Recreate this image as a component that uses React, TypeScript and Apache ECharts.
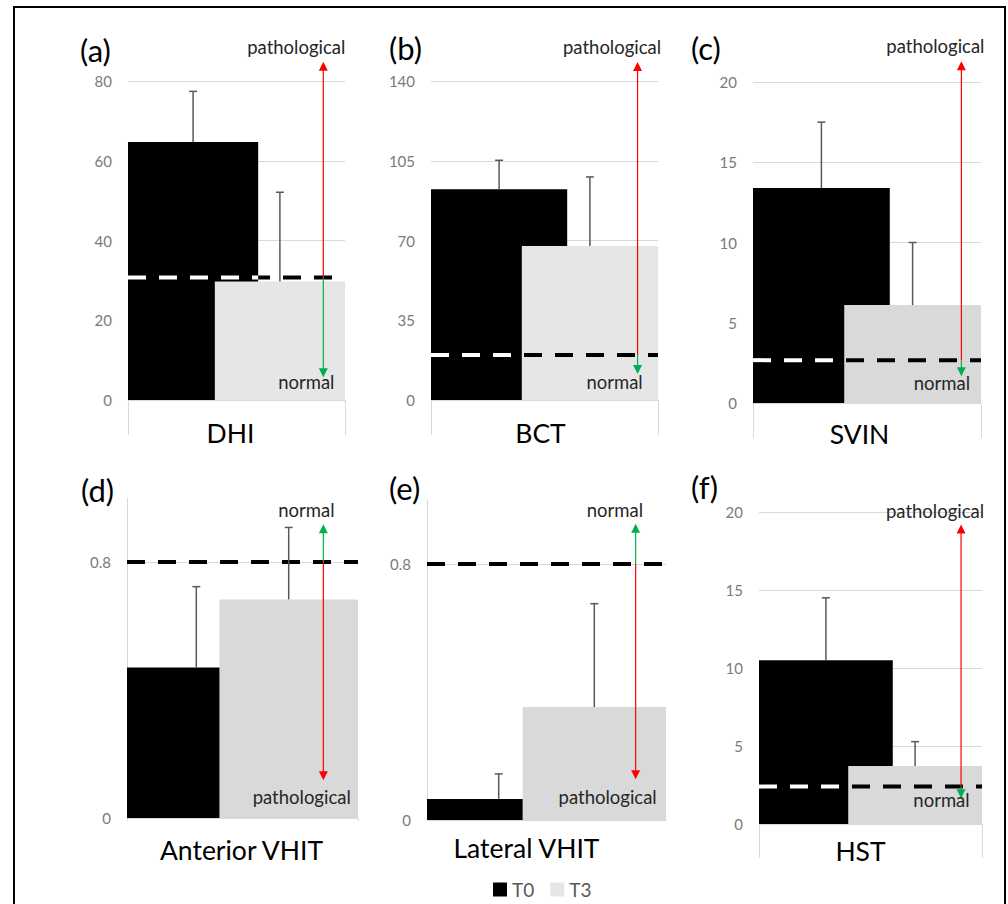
import React, { useEffect, useRef } from 'react';
import * as echarts from 'echarts';

// ---------- data ----------
const categories = ['DHI', 'BCT', 'SVIN', 'Anterior VHIT', 'Lateral VHIT', 'HST'];
const panelLetters = ['(a)', '(b)', '(c)', '(d)', '(e)', '(f)'];
const seriesNames = ['T0', 'T3'];
const t0Mean = [64.7, 92.5, 13.4, 0.47, 0.066, 10.5];
const t0Err = [12.7, 12.7, 4.1, 0.253, 0.078, 4.0];
const t3Mean = [29.7, 67.6, 6.1, 0.683, 0.353, 3.72];
const t3Err = [22.4, 30.3, 3.9, 0.225, 0.323, 1.56];
const thresholds = [30.7, 19.7, 2.67, 0.8, 0.8, 2.4];
const axisMax = [80, 140, 20, 1, 1, 20];
const axisInterval = [20, 35, 5, 0.8, 0.8, 5];
const arrowTop = [84.8, 148.3, 21.3, 0.918, 0.926, 19.2];
const arrowBottom = [5.7, 11.4, 1.67, 0.118, 0.127, 1.65];
const topLabels = ['pathological', 'pathological', 'pathological', 'normal', 'normal', 'pathological'];
const bottomLabels = ['normal', 'normal', 'normal', 'pathological', 'pathological', 'normal'];

// ---------- layout / style ----------
const FONT = 'Lato, "Open Sans", sans-serif';
const RED = '#ff0000';
const GREEN = '#00b050';
const grids = [
  { left: 128, top: 81, width: 217, height: 319 },
  { left: 431, top: 81, width: 227, height: 319 },
  { left: 753, top: 82, width: 228, height: 321 },
  { left: 127, top: 498, width: 231, height: 320 },
  { left: 427, top: 500, width: 239, height: 320 },
  { left: 759, top: 512, width: 223, height: 312 },
];
const panelStyle = [
  { t3Color: '#e7e6e6', arrowFrac: 0.9, tickLen: 35, yLine: false, labelMargin: 19.5, labelShift: -6, topDx: -27, topDy: -15, botDx: -17, botDy: 5 },
  { t3Color: '#e7e6e6', arrowFrac: 0.91, tickLen: 35, yLine: false, labelMargin: 19.5, labelShift: -4, topDx: -25.5, topDy: -15, botDx: -23, botDy: 7.7 },
  { t3Color: '#d9d9d9', arrowFrac: 0.914, tickLen: 35, yLine: false, labelMargin: 17, labelShift: -7.5, topDx: -26, topDy: -15, botDx: -19.5, botDy: 7 },
  { t3Color: '#d9d9d9', arrowFrac: 0.85, tickLen: 3, yLine: true, labelMargin: 18.5, labelShift: -1, topDx: -17, topDy: -14.5, botDx: -21.6, botDy: 16.7 },
  { t3Color: '#d9d9d9', arrowFrac: 0.873, tickLen: 0, yLine: true, labelMargin: 14.5, labelShift: -20, topDx: -20.7, topDy: -14, botDx: -28, botDy: 17.4 },
  { t3Color: '#d9d9d9', arrowFrac: 0.906, tickLen: 34, yLine: false, labelMargin: 13, labelShift: -10, topDx: -26, topDy: -13, botDx: -19.5, botDy: 1.7 },
];
const letterPos = [
  { x: 80, y: 50 }, { x: 389, y: 48 }, { x: 691, y: 48 },
  { x: 81, y: 490 }, { x: 389, y: 488 }, { x: 691, y: 487 },
];

const makeRender = (i: number) => (params: any, api: any) => {
  const cs = params.coordSys;
  const W = cs.width;
  const left = cs.x;
  const right = cs.x + W;
  const cx = left + W / 2;
  const yOf = (v: number) => api.coord([0, v])[1];
  const ps = panelStyle[i];
  const children: any[] = [];
  const ty = yOf(thresholds[i]);
  children.push({
    type: 'line',
    shape: { x1: left, y1: ty, x2: right, y2: ty },
    style: { stroke: '#000', lineWidth: 4, lineDash: [18, 13] },
  });
  if (thresholds[i] < t0Mean[i]) {
    const split = thresholds[i] > t3Mean[i] ? cx + 0.1 * W : cx - 0.1 * W;
    children.push({
      type: 'line',
      shape: { x1: left, y1: ty, x2: split, y2: ty },
      style: { stroke: '#fff', lineWidth: 4, lineDash: [18, 13] },
    });
  }
  const bars: [number, number, number][] = [
    [cx - 0.2 * W, t0Mean[i], t0Err[i]],
    [cx + 0.2 * W, t3Mean[i], t3Err[i]],
  ];
  bars.forEach(([x, m, e]) => {
    const y1 = yOf(m);
    const y2 = yOf(m + e);
    children.push({ type: 'line', shape: { x1: x, y1, x2: x, y2 }, style: { stroke: '#595959', lineWidth: 1.5 } });
    children.push({ type: 'line', shape: { x1: x - 4, y1: y2, x2: x + 4, y2 }, style: { stroke: '#595959', lineWidth: 1.5 } });
  });
  const ax = left + ps.arrowFrac * W;
  const yt = yOf(arrowTop[i]);
  const yb = yOf(arrowBottom[i]);
  const topColor = topLabels[i] === 'pathological' ? RED : GREEN;
  const botColor = bottomLabels[i] === 'pathological' ? RED : GREEN;
  children.push({ type: 'line', shape: { x1: ax, y1: ty, x2: ax, y2: yt + 8 }, style: { stroke: topColor, lineWidth: 1.2 } });
  children.push({ type: 'polygon', shape: { points: [[ax, yt], [ax - 4.5, yt + 9], [ax + 4.5, yt + 9]] }, style: { fill: topColor } });
  children.push({ type: 'line', shape: { x1: ax, y1: ty, x2: ax, y2: yb - 8 }, style: { stroke: botColor, lineWidth: 1.2 } });
  children.push({ type: 'polygon', shape: { points: [[ax, yb], [ax - 4.5, yb - 9], [ax + 4.5, yb - 9]] }, style: { fill: botColor } });
  children.push({
    type: 'text',
    style: { x: ax + ps.topDx, y: yt + ps.topDy, text: topLabels[i], fill: '#262626', fontSize: 18.5, fontFamily: FONT, align: 'center', verticalAlign: 'middle' },
  });
  children.push({
    type: 'text',
    style: { x: ax + ps.botDx, y: yb + ps.botDy, text: bottomLabels[i], fill: '#262626', fontSize: 18.5, fontFamily: FONT, align: 'center', verticalAlign: 'middle' },
  });
  return { type: 'group', children };
};

export default function App() {
  const ref = useRef<HTMLDivElement>(null);
  useEffect(() => {
    if (!ref.current) return;
    const chart = echarts.init(ref.current, undefined, { renderer: 'svg' });
    const xAxis = categories.map((c, i) => ({
      type: 'category',
      gridIndex: i,
      data: [c],
      axisLine: { show: true, lineStyle: { color: '#d9d9d9', width: 1 } },
      axisTick: { show: panelStyle[i].tickLen > 0, length: panelStyle[i].tickLen, lineStyle: { color: '#d9d9d9' } },
      axisLabel: {
        fontSize: 26.5,
        color: '#000',
        fontFamily: FONT,
        margin: panelStyle[i].labelMargin,
        padding: panelStyle[i].labelShift < 0 ? [0, -2 * panelStyle[i].labelShift, 0, 0] : [0, 0, 0, 2 * panelStyle[i].labelShift],
      },
    }));
    const yAxis = categories.map((_, i) => ({
      type: 'value',
      gridIndex: i,
      min: 0,
      max: axisMax[i],
      interval: axisInterval[i],
      axisLine: { show: panelStyle[i].yLine, lineStyle: { color: '#d9d9d9' } },
      axisTick: { show: false },
      axisLabel: { fontSize: 15, color: '#7a7a7a', fontFamily: FONT, margin: 16, showMaxLabel: !panelStyle[i].yLine },
      splitLine: { show: true, showMaxLine: !panelStyle[i].yLine, lineStyle: { color: '#d9d9d9', width: 1 } },
    }));
    const t0Series = categories.map((_, i) => ({
      type: 'bar',
      name: seriesNames[0],
      xAxisIndex: i,
      yAxisIndex: i,
      data: [t0Mean[i]],
      barWidth: '60%',
      barGap: '-33.3%',
      itemStyle: { color: '#000' },
    }));
    const t3Series = categories.map((_, i) => ({
      type: 'bar',
      name: seriesNames[1],
      xAxisIndex: i,
      yAxisIndex: i,
      data: [t3Mean[i]],
      barWidth: '60%',
      barGap: '-33.3%',
      itemStyle: { color: panelStyle[i].t3Color },
    }));
    const customSeries = categories.map((_, i) => ({
      type: 'custom',
      xAxisIndex: i,
      yAxisIndex: i,
      z: 5,
      silent: true,
      data: [[0, thresholds[i]]],
      renderItem: makeRender(i),
    }));
    chart.setOption({
      animation: false,
      backgroundColor: '#fff',
      grid: grids,
      xAxis,
      yAxis,
      legend: {
        data: seriesNames,
        left: 488,
        top: 875,
        icon: 'rect',
        itemWidth: 14,
        itemHeight: 14,
        itemGap: 16,
        selectedMode: false,
        textStyle: { fontSize: 19, color: '#595959', fontFamily: FONT },
      },
      series: [...t0Series, ...t3Series, ...customSeries],
      graphic: [
        {
          type: 'rect',
          shape: { x: 14, y: 7, width: 991, height: 950 },
          style: { fill: 'none', stroke: '#000', lineWidth: 2 },
          silent: true,
        },
        ...panelLetters.map((t, i) => ({
          type: 'text',
          x: letterPos[i].x,
          y: letterPos[i].y,
          style: { text: t, fontSize: 31, fontFamily: FONT, fill: '#000', verticalAlign: 'middle', align: 'left' },
          silent: true,
        })),
      ],
    });
    return () => chart.dispose();
  }, []);
  return <div ref={ref} style={{ position: 'absolute', left: 0, top: 0, width: 1008, height: 904 }} />;
}
